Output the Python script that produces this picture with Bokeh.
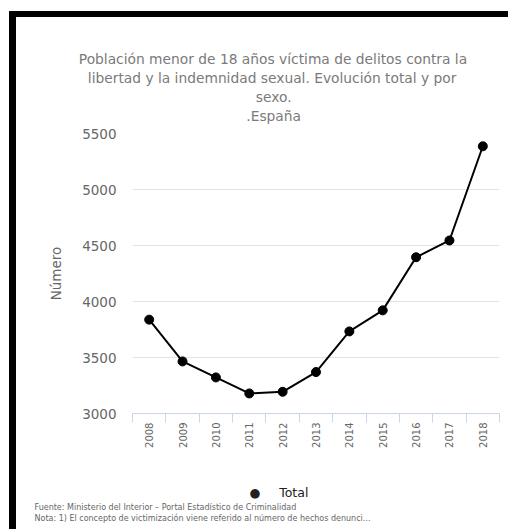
import math
from bokeh.plotting import figure
from bokeh.models import FixedTicker, Title, Range1d
from bokeh.embed import file_html
from bokeh.resources import INLINE

# ---- data ----
years = [2008, 2009, 2010, 2011, 2012, 2013, 2014, 2015, 2016, 2017, 2018]
total = [3838, 3465, 3322, 3179, 3194, 3370, 3733, 3921, 4395, 4545, 5386]
y_ticks = [3000, 3500, 4000, 4500, 5000, 5500]
series_name = "Total"
y_label = "Número"
title_lines = [
    "Población menor de 18 años víctima de delitos contra la",
    "libertad y la indemnidad sexual. Evolución total y por",
    "sexo.",
    ".España",
]
source_note = "Fuente: Ministerio del Interior – Portal Estadístico de Criminalidad"
note_text = "Nota: 1) El concepto de victimización viene referido al número de hechos denunci..."

FONT = "DejaVu Sans"
GRAY = "#666666"
TITLE_SIZE = 13.8
# approximate rendered widths (px) of the title lines, used to centre them
title_widths = [389, 371, 35, 54]
TITLE_CENTER = 140.8  # px right of the plot-area left edge

p = figure(width=492, height=512, output_backend="svg", toolbar_location=None,
           x_range=Range1d(years[0] - 0.5, years[-1] + 0.5),
           y_range=Range1d(y_ticks[0], y_ticks[-1]),
           min_border_left=116, min_border_right=9, min_border_top=116, min_border_bottom=116,
           outline_line_color=None, background_fill_color="white", border_fill_color="white",
           margin=(17, 0, 0, 16),
           styles={"box-shadow": "-7px -6px 0px 0px black, 0px -6px 0px 0px black, -7px 0px 0px 0px black"})

p.line(years, total, line_color="black", line_width=2)
p.scatter(years, total, size=9, color="black")

# ---- titles (stacked upward from the plot area) ----
p.add_layout(Title(text=" ", text_font=FONT, text_font_size="4px", standoff=2), "above")
for txt, w in reversed(list(zip(title_lines, title_widths))):
    p.add_layout(Title(text=txt, align="left", offset=TITLE_CENTER - w / 2, standoff=1,
                       text_font=FONT, text_font_size=f"{TITLE_SIZE}px",
                       text_font_style="normal", text_color="#7a7a7a"), "above")

# ---- y axis ----
p.yaxis.ticker = FixedTicker(ticks=y_ticks)
p.yaxis.axis_line_color = None
p.yaxis.major_tick_line_color = None
p.yaxis.minor_tick_line_color = None
p.yaxis.major_tick_out = 0
p.yaxis.major_tick_in = 0
p.yaxis.major_label_standoff = 16
p.yaxis.major_label_text_font = FONT
p.yaxis.major_label_text_font_size = "13.5px"
p.yaxis.major_label_text_color = GRAY
p.yaxis.axis_label = y_label
p.yaxis.axis_label_text_font = FONT
p.yaxis.axis_label_text_font_size = "13.5px"
p.yaxis.axis_label_text_font_style = "normal"
p.yaxis.axis_label_text_color = GRAY
p.yaxis.axis_label_standoff = 15

# ---- x axis with ticks on category boundaries ----
bounds = [y - 0.5 for y in years] + [years[-1] + 0.5]
p.xaxis.ticker = FixedTicker(ticks=years, minor_ticks=bounds)
p.xaxis.axis_line_color = "#ccd6eb"
p.xaxis.major_tick_line_color = None
p.xaxis.major_tick_out = 0
p.xaxis.major_tick_in = 0
p.xaxis.minor_tick_line_color = "#ccd6eb"
p.xaxis.minor_tick_in = 0
p.xaxis.minor_tick_out = 9
p.xaxis.major_label_orientation = math.pi / 2
p.xaxis.major_label_standoff = 0
p.xaxis.major_label_text_font = FONT
p.xaxis.major_label_text_font_size = "10px"
p.xaxis.major_label_text_color = GRAY

p.xgrid.grid_line_color = None
p.ygrid.grid_line_color = "#e3e3e3"
p.ygrid.grid_line_width = 1

# ---- below: spacer, series key, notes ----
p.add_layout(Title(text=" ", text_font=FONT, text_font_size="10px", standoff=18), "below")
p.add_layout(Title(text="\u25cf\u2003\u2002" + series_name, align="left", offset=117, standoff=2,
                   text_font=FONT, text_font_size="12.5px", text_font_style="normal",
                   text_color="#222222"), "below")
for txt in [source_note, note_text]:
    p.add_layout(Title(text=txt, align="left", offset=-98, standoff=0, text_font=FONT,
                       text_font_size="8px", text_font_style="normal", text_color=GRAY), "below")

open("out.html", "w").write(file_html(p, INLINE))
